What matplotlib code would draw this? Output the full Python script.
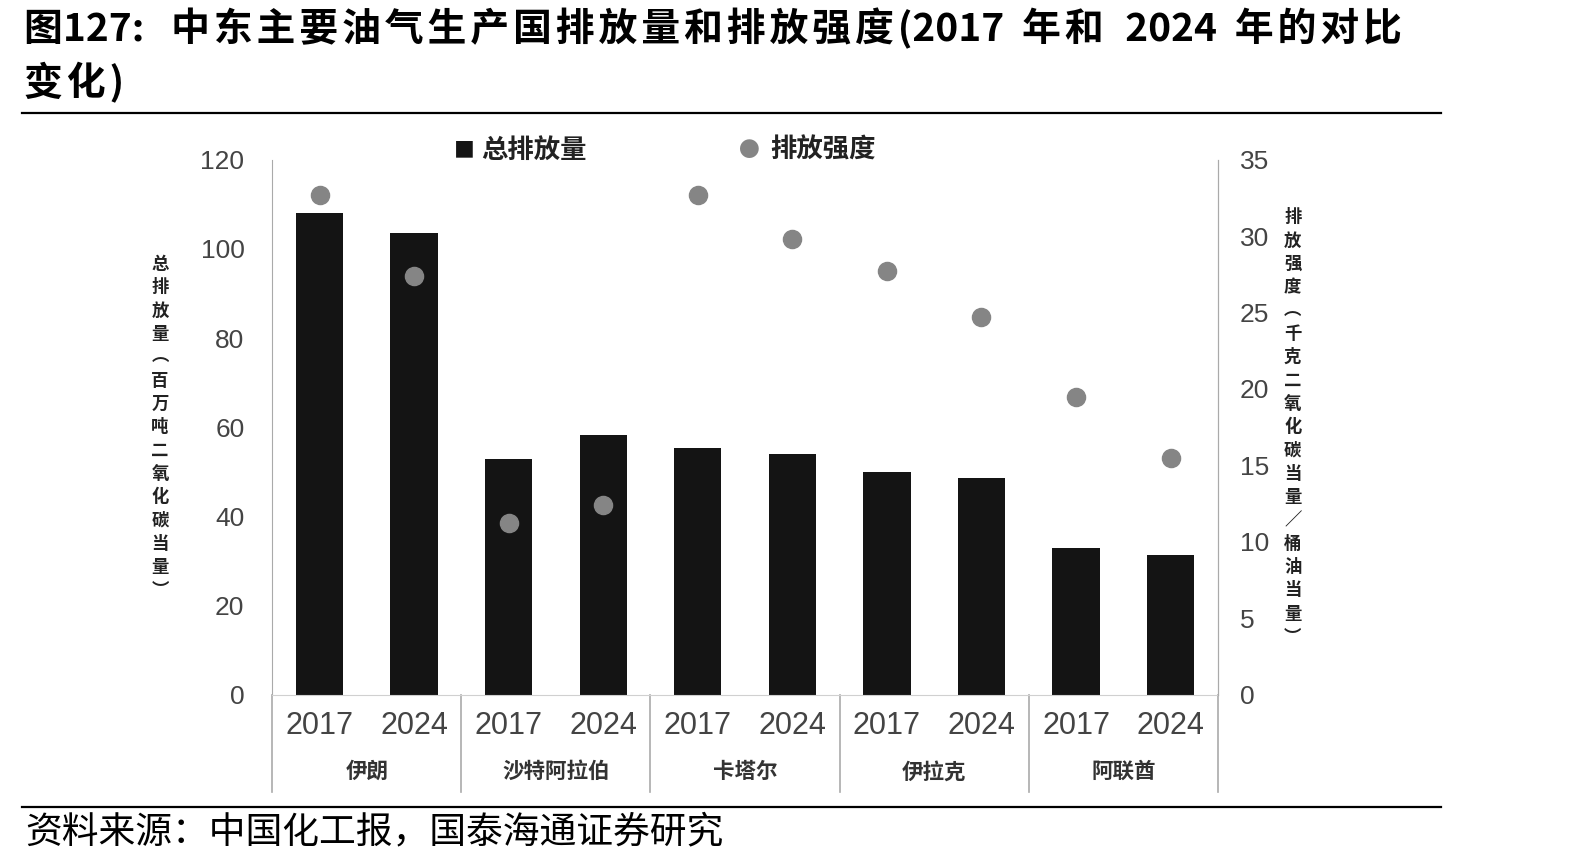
import matplotlib.pyplot as plt
from matplotlib.lines import Line2D

plt.rcParams['font.family'] = ['Noto Sans CJK SC', 'DejaVu Sans']

countries = ['伊朗', '沙特阿拉伯', '卡塔尔', '伊拉克', '阿联酋']
years = ['2017', '2024']
# total emissions, million t CO2e (2017, 2024 per country)
emissions = [108, 103.5, 52.8, 58.2, 55.3, 53.9, 49.9, 48.5, 33.0, 31.4]
# emission intensity, kg CO2e / boe
intensity = [32.7, 27.4, 11.2, 12.4, 32.7, 29.8, 27.7, 24.7, 19.5, 15.5]


def spaced(s):
    # add a little tracking between CJK characters, like the source typesetting
    out = ''
    for ch in s:
        out += ch
        if ord(ch) > 0x2e80:
            out += '\u200a'
    return out


fig = plt.figure(figsize=(15.92, 8.63), dpi=100)
ax = fig.add_axes([0.171, 0.195, 0.594, 0.62])
ax2 = ax.twinx()

x = list(range(len(emissions)))
ax.bar(x, emissions, width=0.5, color='#141414', zorder=2)
ax2.scatter(x, intensity, s=170, color='#858585', zorder=3)

ax.set_xlim(-0.5, 9.5)
ax.set_ylim(0, 120)
ax2.set_ylim(0, 35)
ax.set_yticks(range(0, 121, 20))
ax2.set_yticks(range(0, 36, 5))
ax.set_xticks([])

for a in (ax, ax2):
    a.spines['top'].set_visible(False)
    a.tick_params(axis='y', length=0, labelsize=19, labelcolor='#444444')
    for lbl in a.get_yticklabels():
        lbl.set_family(['Liberation Sans', 'DejaVu Sans'])
ax.tick_params(axis='y', pad=20)
ax2.tick_params(axis='y', pad=16)
ax.spines['bottom'].set_color('#d0d0d0')
ax.spines['left'].set_color('#aaaaaa')
ax.spines['right'].set_color('#aaaaaa')
ax2.spines['left'].set_visible(False)
ax2.spines['bottom'].set_visible(False)
ax2.spines['right'].set_color('#aaaaaa')

# category labels below the axis
tr = ax.get_xaxis_transform()
for i in x:
    ax.text(i, -0.058, years[i % 2], transform=tr, ha='center', va='center',
            fontsize=22, color='#444444', family=['Liberation Sans', 'DejaVu Sans'])
for j, c in enumerate(countries):
    ax.text(2 * j + 0.5, -0.144, c, transform=tr, ha='center', va='center',
            fontsize=15.5, color='#333333', fontweight='bold')
for b in [-0.5, 1.5, 3.5, 5.5, 7.5, 9.5]:
    ax.add_line(Line2D([b, b], [0, -0.181], transform=tr, color='#aaaaaa',
                       lw=1.2, clip_on=False))

# axis titles, written vertically
left_lbl = '总排放量︵百万吨二氧化碳当量︶'
right_lbl = '排放强度︵千克二氧化碳当量／桶油当量︶'
fig.text(0.1005, 0.505, '\n'.join(left_lbl), ha='center', va='center',
         fontsize=12.5, fontweight='bold', color='#222222', linespacing=1.38)
fig.text(0.812, 0.505, '\n'.join(right_lbl), ha='center', va='center',
         fontsize=12.5, fontweight='bold', color='#222222', linespacing=1.38)

# legend
fig.text(0.285, 0.826, '■', fontsize=15, color='#141414', va='center', ha='left')
fig.text(0.302, 0.826, '总排放量', fontsize=19, fontweight='bold', color='#222222', va='center')
fig.text(0.464, 0.826, '●', fontsize=15, color='#858585', va='center', ha='left')
fig.text(0.484, 0.826, '排放强度', fontsize=19, fontweight='bold', color='#222222', va='center')

# title and source
fig.text(0.015, 0.967, '图127:   ' + spaced('中东主要油气生产国排放量和排放强度') + '(2017  '
         + spaced('年和') + '  2024  ' + spaced('年的对比'),
         fontsize=28, fontweight='bold', va='center', color='black')
fig.text(0.015, 0.904, spaced('变化') + ')', fontsize=28, fontweight='bold', va='center',
         color='black')
fig.add_artist(Line2D([0.014, 0.905], [0.869, 0.869], color='black', lw=1.6))
fig.add_artist(Line2D([0.014, 0.905], [0.065, 0.065], color='black', lw=1.6))
fig.text(0.016, 0.036, '资料来源：中国化工报，国泰海通证券研究', fontsize=26.5,
         va='center', color='black')

fig.savefig('out.png', dpi=100)
